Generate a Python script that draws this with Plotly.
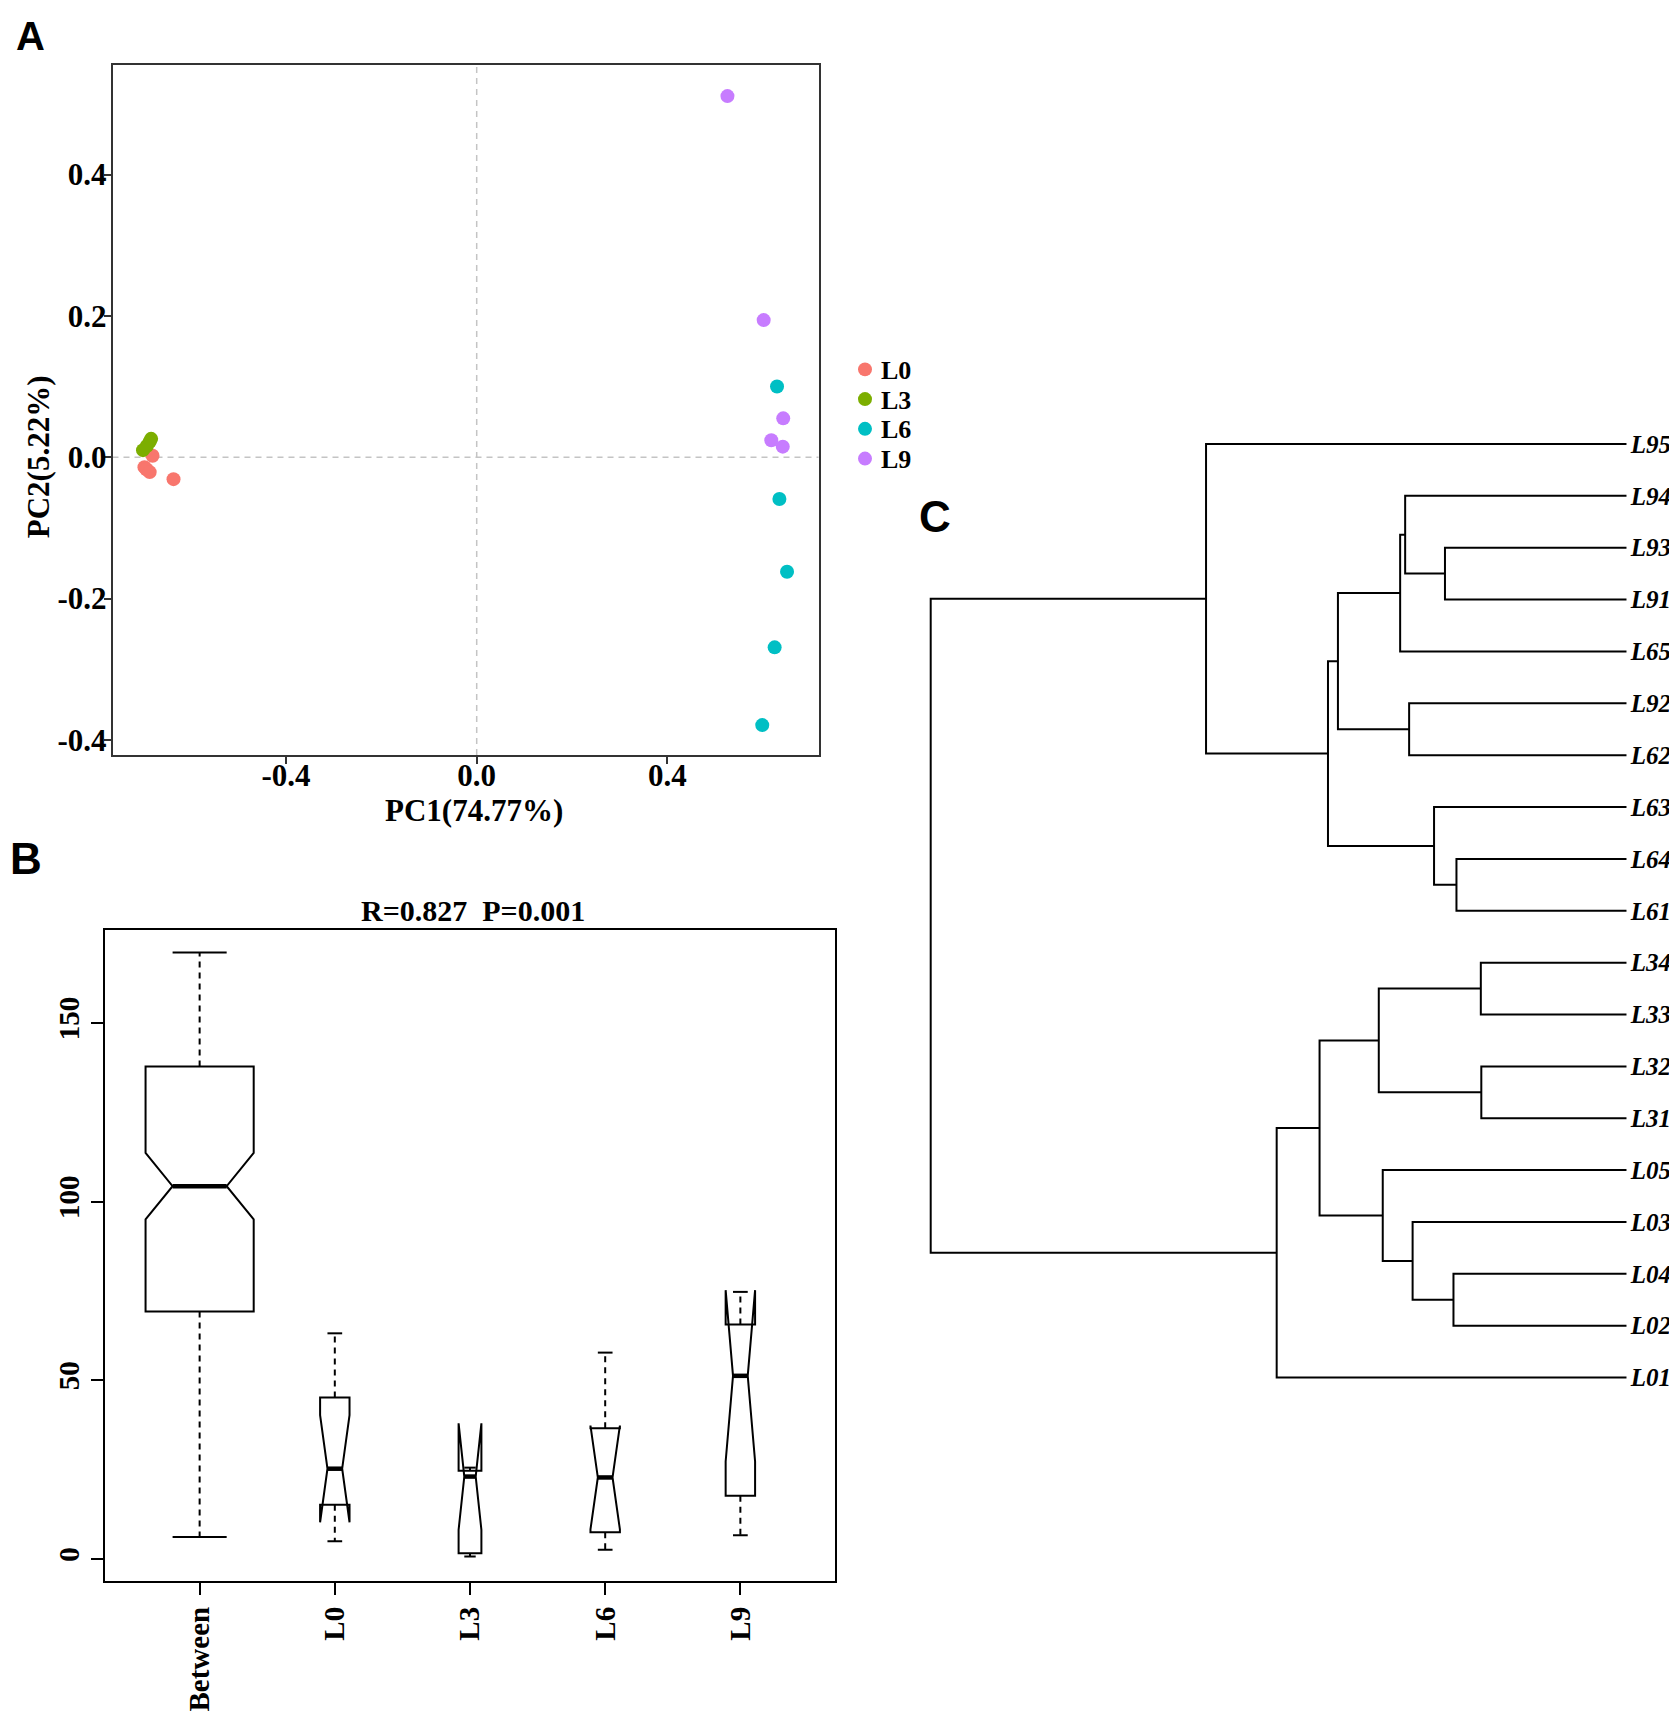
import numpy as np
import plotly.graph_objects as go

W, H = 1677, 1717
OFF = 8  # default page body margin of the html page
FW, FH = W - OFF, H - OFF
SERIF = "Liberation Serif, Times New Roman, serif"
SANS = "Liberation Sans, Arial, sans-serif"

# ---------------- Panel A : PCoA ----------------
groups = ["L0", "L3", "L6", "L9"]
group_colors = ["#F8766D", "#7CAE00", "#00BFC4", "#C77CFF"]
pc1_L0 = [-0.680, -0.697, -0.693, -0.686, -0.636]
pc2_L0 = [0.002, -0.014, -0.017, -0.021, -0.031]
pc1_L3 = [-0.683, -0.686, -0.692, -0.700]
pc2_L3 = [0.026, 0.022, 0.016, 0.010]
pc1_L6 = [0.630, 0.635, 0.651, 0.625, 0.599]
pc2_L6 = [0.100, -0.059, -0.162, -0.269, -0.379]
pc1_L9 = [0.526, 0.602, 0.643, 0.618, 0.642]
pc2_L9 = [0.511, 0.194, 0.055, 0.024, 0.015]
pc1_all = [pc1_L0, pc1_L3, pc1_L6, pc1_L9]
pc2_all = [pc2_L0, pc2_L3, pc2_L6, pc2_L9]
pcA_xticks = [-0.4, 0.0, 0.4]
pcA_yticks = [-0.4, -0.2, 0.0, 0.2, 0.4]

# ---------------- Panel B : ANOSIM boxplot ----------------
box_cats = ["Between", "L0", "L3", "L6", "L9"]
box_n = [135, 10, 6, 10, 10]
box_low = [6.1, 4.9, 0.6, 2.5, 6.6]
box_q1 = [69.2, 15.1, 1.5, 7.4, 17.6]
box_med = [104.3, 25.2, 23.0, 22.75, 51.2]
box_q3 = [137.8, 45.1, 24.6, 36.5, 65.6]
box_high = [169.7, 63.1, 25.5, 57.7, 74.7]
box_yticks = [0, 50, 100, 150]
anosim_title = "R=0.827\u00a0\u00a0P=0.001"

# ---------------- Panel C : dendrogram ----------------
merge_a = ["L32", "L34", "L64", "L04", "L93", "L63", "L03", "L92", "L94",
           "m9", "L05", "m2", "m10", "m13", "m12", "m15", "L95", "m17"]
merge_b = ["L31", "L33", "L61", "L02", "L91", "m3", "m4", "L62", "m5",
           "L65", "m7", "m1", "m8", "m6", "m11", "L01", "m14", "m16"]
merge_h = [0.2089, 0.2096, 0.2446, 0.2489, 0.2611, 0.2768, 0.3076, 0.3126, 0.3183,
           0.3255, 0.3505, 0.3562, 0.4149, 0.4292, 0.4413, 0.5029, 0.6044, 1.000]


def px(x):
    return (x - OFF) / FW


def py(y):
    return 1 - (y - OFF) / FH


fig = go.Figure()

# ---- Panel A traces
for g, c, xs, ys in zip(groups, group_colors, pc1_all, pc2_all):
    fig.add_trace(go.Scatter(x=xs, y=ys, mode="markers", name=g,
                             marker=dict(color=c, size=14, line=dict(width=0)),
                             xaxis="x", yaxis="y", showlegend=False, hoverinfo="skip"))

# ---- Panel B traces
nmax = max(box_n)
for i, cat in enumerate(box_cats):
    pos = i + 1
    w = 0.8 * np.sqrt(box_n[i] / nmax)
    ns = 1.58 * (box_q3[i] - box_q1[i]) / np.sqrt(box_n[i])
    fig.add_trace(go.Scatter(x=[pos, pos, None, pos, pos],
                             y=[box_q3[i], box_high[i], None, box_q1[i], box_low[i]],
                             mode="lines", line=dict(color="black", width=2, dash="6px,5px"),
                             xaxis="x2", yaxis="y2", showlegend=False, hoverinfo="skip"))
    fig.add_trace(go.Scatter(x=[pos - w / 4, pos + w / 4, None, pos - w / 4, pos + w / 4],
                             y=[box_high[i], box_high[i], None, box_low[i], box_low[i]],
                             mode="lines", line=dict(color="black", width=2),
                             xaxis="x2", yaxis="y2", showlegend=False, hoverinfo="skip"))
    fig.add_trace(go.Box(x=[pos], q1=[box_q1[i]], median=[box_med[i]], q3=[box_q3[i]],
                         lowerfence=[box_q1[i]], upperfence=[box_q3[i]],
                         notched=True, notchspan=[ns], notchwidth=0.25, width=w,
                         whiskerwidth=0, line=dict(color="black", width=2),
                         fillcolor="rgba(0,0,0,0)", xaxis="x2", yaxis="y2",
                         showlegend=False, hoverinfo="skip", name=cat))
    fig.add_trace(go.Scatter(x=[pos - w / 4, pos + w / 4], y=[box_med[i], box_med[i]],
                             mode="lines", line=dict(color="black", width=4.5),
                             xaxis="x2", yaxis="y2", showlegend=False, hoverinfo="skip"))

# ---- Panel C: dendrogram layout computed from merge table
node = {}
for k in range(len(merge_h)):
    node["m%d" % (k + 1)] = (merge_a[k], merge_b[k], merge_h[k])


def leaves(n):
    if n in node:
        a, b, _ = node[n]
        return leaves(a) + leaves(b)
    return [n]


root = "m%d" % len(merge_h)
leaf_order = leaves(root)
ypos = {lf: i for i, lf in enumerate(leaf_order)}
hpos = {lf: 0.0 for lf in leaf_order}
dx, dy = [], []
for k in range(len(merge_h)):
    name = "m%d" % (k + 1)
    a, b, h = node[name]
    ya, yb = ypos[a], ypos[b]
    ha, hb = hpos[a], hpos[b]
    dx += [ha, h, h, hb, None]
    dy += [ya, ya, yb, yb, None]
    ypos[name] = (ya + yb) / 2
    hpos[name] = h

fig.add_trace(go.Scatter(x=dx, y=dy, mode="lines", line=dict(color="black", width=2),
                         xaxis="x3", yaxis="y3", showlegend=False, hoverinfo="skip"))

# ---------------- Layout ----------------
tickfontA = dict(family=SERIF, size=31, color="black", weight="bold")
tickfontB = dict(family=SERIF, size=29, color="black", weight="bold")

x3_left, x3_right = 930.7 - 0.005 * 696, 1626.7

fig.update_layout(
    width=FW, height=FH, margin=dict(l=0, r=0, t=0, b=0),
    paper_bgcolor="white", plot_bgcolor="white", showlegend=False,
    boxmode="overlay",
    xaxis=dict(domain=[px(112.5), px(818.5)], anchor="y", range=[-0.764, 0.717],
               tickvals=pcA_xticks, ticktext=["%.1f" % v for v in pcA_xticks],
               showgrid=False, zeroline=False, showline=True, mirror=True,
               linecolor="#333333", linewidth=1.5, ticks="outside", ticklen=7,
               tickcolor="#333333", tickwidth=1.5, tickfont=tickfontA,
               ticklabelstandoff=-15),
    yaxis=dict(domain=[py(756.3), py(65.3)], anchor="x", range=[-0.4213, 0.5547],
               tickvals=pcA_yticks, ticktext=["%.1f" % v for v in pcA_yticks],
               showgrid=False, zeroline=False, showline=True, mirror=True,
               linecolor="#333333", linewidth=1.5, ticks="outside", ticklen=7,
               tickcolor="#333333", tickwidth=1.5, tickfont=tickfontA,
               ticklabelstandoff=-9),
    xaxis2=dict(domain=[px(105), px(835)], anchor="y2", range=[0.3, 5.7],
                tickvals=list(range(1, len(box_cats) + 1)), ticktext=box_cats,
                tickangle=-90, showgrid=False, zeroline=False, showline=True, mirror=True,
                linecolor="black", linewidth=2, ticks="outside", ticklen=12,
                tickcolor="black", tickwidth=2, tickfont=tickfontB),
    yaxis2=dict(domain=[py(1584), py(932)], anchor="x2", range=[-6.3, 175.9],
                tickvals=box_yticks, ticktext=[str(v) for v in box_yticks],
                tickangle=-90, showgrid=False, zeroline=False, showline=True, mirror=True,
                linecolor="black", linewidth=2, ticks="outside", ticklen=12,
                tickcolor="black", tickwidth=2, tickfont=tickfontB),
    xaxis3=dict(domain=[px(x3_left), px(x3_right)], anchor="y3", range=[1.005, 0.0],
                visible=False),
    yaxis3=dict(domain=[py(1406), py(418.7)], anchor="x3", range=[len(leaf_order) - 0.5, -0.5],
                side="right", tickvals=list(range(len(leaf_order))), ticktext=leaf_order,
                ticks="", showgrid=False, zeroline=False, showline=False,
                ticklabelstandoff=3,
                tickfont=dict(family=SERIF, size=25, color="black", weight="bold", style="italic")),
)

# zero reference lines in panel A
fig.add_hline(y=0, line=dict(color="#C4C4C4", width=1.5, dash="6px,5px"), xref="x", yref="y",
              layer="below")
fig.add_shape(type="line", xref="x", yref="y domain", x0=0, x1=0, y0=0, y1=1,
              line=dict(color="#C4C4C4", width=1.5, dash="6px,5px"), layer="below")


def label(text, x, y, size, family=SERIF, angle=0, xanchor="center"):
    return dict(text=text, x=px(x), y=py(y), xref="paper", yref="paper",
                xanchor=xanchor, yanchor="middle", showarrow=False, textangle=angle,
                font=dict(family=family, size=size, color="black", weight="bold"))


annotations = [
    label("PC1(74.77%)", 474, 812, 31),
    label("PC2(5.22%)", 38, 458, 31, angle=-90),
    label(anosim_title, 473, 912, 30),
]
shapes = []
for i, (g, c) in enumerate(zip(groups, group_colors)):
    cy = 370 + 29.8 * i
    r = 7
    shapes.append(dict(type="circle", xref="paper", yref="paper",
                       x0=px(865 - r), x1=px(865 + r), y0=py(cy + r), y1=py(cy - r),
                       fillcolor=c, line=dict(width=0)))
    annotations.append(label(g, 879, cy + 1, 26, xanchor="left"))

for letter, lx, ly, sz in [("A", 30, 36, 40), ("B", 26, 860, 44), ("C", 935, 517, 44)]:
    annotations.append(label(letter, lx, ly, sz, family=SANS))

for s in shapes:
    fig.add_shape(**s)
fig.update_layout(annotations=annotations)

fig.write_html("out.html")
